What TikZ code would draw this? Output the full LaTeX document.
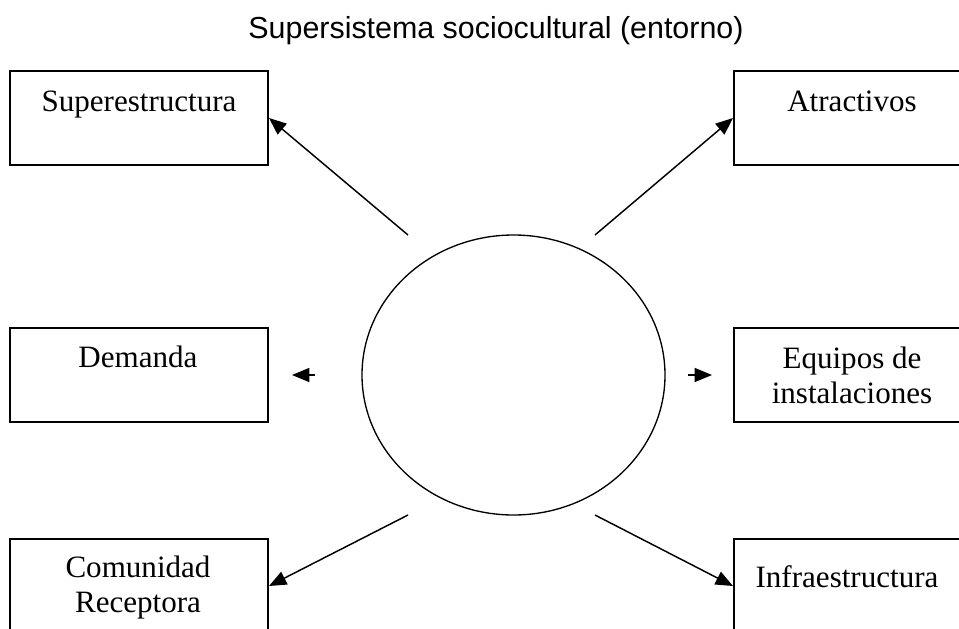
\documentclass[tikz,border=0pt]{standalone}
\usepackage{fontspec}
\setmainfont{Liberation Serif}
\newfontfamily\titlefont{Liberation Sans}
\usetikzlibrary{arrows.meta,shapes.geometric}

\tikzset{every picture/.style={line width=0.75pt}}
\tikzset{
	caja/.style={draw, line width=1.5pt, minimum width=#1, minimum height=70.5pt, inner sep=0pt},
	texto/.style={font=\fontsize{23.3}{26.2}\selectfont, inner sep=0pt, align=center, anchor=base},
	flecha/.style={line width=1.1pt, -{Triangle[length=13pt,width=10.5pt]}}
}

\begin{document}
\begin{tikzpicture}[x=0.75pt,y=0.75pt,yscale=-1,xscale=1]
	\useasboundingbox (0,0) rectangle (959,628);
	\clip (0,0) rectangle (959,628);

	% Title
	\node[font=\titlefont\fontsize{22.8}{27}\selectfont, anchor=base, inner sep=0pt] (titulo) at (496,38) {Supersistema sociocultural (entorno)};

	% Boxes
	\node[caja=193.5pt] (sup) at (139,118) {};
	\node[caja=177pt] (atr) at (852,118) {};
	\node[caja=193.5pt] (dem) at (139,375) {};
	\node[caja=177pt] (equ) at (852,375) {};
	\node[caja=193.5pt] (com) at (139,586) {};
	\node[caja=177pt] (inf) at (852,586) {};

	% Circle
	\node[draw, ellipse, line width=1pt, minimum width=227.25pt, minimum height=210pt, inner sep=0pt] (sist) at (513.5,375) {};

	% Text Nodes
	\node[texto] (tsup) at (139,111) {Superestructura};
	\node[texto] (tatr) at (852,111) {Atractivos};
	\node[texto] (tdem) at (138,367) {Demanda};
	\node[texto] (tequ) at (852,403) {Equipos de\\instalaciones};
	\node[texto] (tcom) at (138,612) {Comunidad\\Receptora};
	\node[texto] (tinf) at (847,587) {Infraestructura};

	% Arrows
	\coordinate (a1) at (408,235);
	\coordinate (a2) at (595,235);
	\coordinate (a3) at (408,515);
	\coordinate (a4) at (595,515);
	\draw[flecha] (a1) -- (sup.east);
	\draw[flecha] (a2) -- (atr.west);
	\draw[flecha] (a3) -- (com.east);
	\draw[flecha] (a4) -- (inf.west);

	\coordinate (d1) at (315,375);
	\coordinate (d2) at (292,375);
	\draw[flecha] (d1) -- (d2);
	\coordinate (e1) at (688,375);
	\coordinate (e2) at (712,375);
	\draw[flecha] (e1) -- (e2);

\end{tikzpicture}
\end{document}
